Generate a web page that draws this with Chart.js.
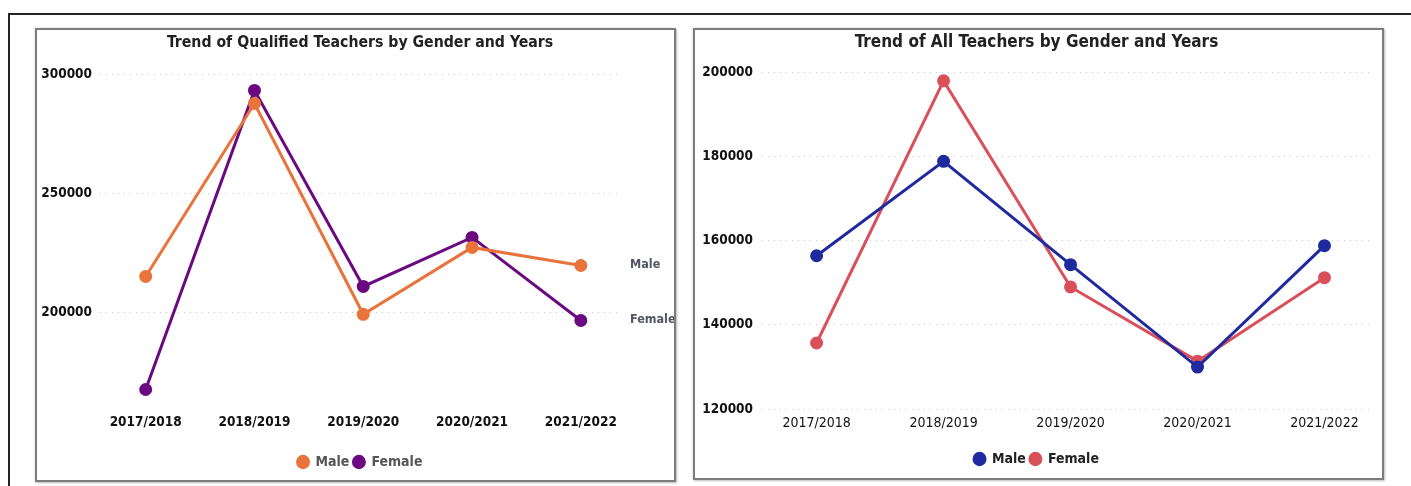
<!DOCTYPE html>
<html>
<head>
<meta charset="utf-8">
<script src="https://cdn.jsdelivr.net/npm/chart.js@4.4.1/dist/chart.umd.min.js"></script>
<style>
  html, body { margin: 0; padding: 0; background: #fff; }
  body { width: 1411px; height: 486px; position: relative; overflow: hidden; }
  .frame { position: absolute; left: 8px; top: 13px; right: -5px; bottom: -5px;
           border-top: 2px solid #222; border-left: 2px solid #222; }
  .panel { position: absolute; border: 2px solid #7c7c7c; background: #fff;
           box-shadow: 1px 1px 2px #bbb, -1px -1px 2px #eee; }
  #p1 { left: 35px; top: 28px; width: 637px; height: 450px; }
  #p2 { left: 693px; top: 28px; width: 687px; height: 448px; }
  canvas { display: block; }
</style>
</head>
<body>
<div class="frame"></div>
<div class="panel" id="p1"><canvas id="qualChart" width="637" height="450"></canvas></div>
<div class="panel" id="p2"><canvas id="allChart" width="687" height="448"></canvas></div>

<script>
    const years = ['2017/2018', '2018/2019', '2019/2020', '2020/2021', '2021/2022'];

    // qualified teachers
    const qualMale = [215100, 287800, 199200, 227300, 219700];
    const qualFemale = [167600, 293300, 210900, 231500, 196600];
    const qualTicks = [200000, 250000, 300000];

    // all teachers
    const allMale = [156400, 178800, 154300, 130000, 158800];
    const allFemale = [135700, 197900, 149000, 131400, 151200];
    const allTicks = [120000, 140000, 160000, 180000, 200000];

    const FONT = "'Liberation Sans Narrow', 'DejaVu Sans Condensed', sans-serif";
    Chart.defaults.font.family = FONT;
    Chart.defaults.color = '#111';

    const toPoints = arr => arr.map((v, i) => ({x: i, y: v}));

    // labels "Male" / "Female" next to the last point of the left chart
    const endLabels = {
        id: 'endLabels',
        afterDatasetsDraw(chart) {
            const ctx = chart.ctx;
            ctx.save();
            ctx.font = `bold 12.5px ${FONT}`;
            ctx.fillStyle = '#4f5763';
            ctx.textBaseline = 'middle';
            chart.data.datasets.forEach((ds, i) => {
                const meta = chart.getDatasetMeta(i);
                const last = meta.data[meta.data.length - 1];
                ctx.fillText(ds.label, chart.chartArea.right + 10, last.y - 1);
            });
            ctx.restore();
        }
    };

    function makeChart(id, maleData, femaleData, maleColor, femaleColor, opts) {
        const ctx = document.getElementById(id).getContext('2d');
        return new Chart(ctx, {
            type: 'line',
            data: {
                datasets: [
                    {label: 'Male', data: toPoints(maleData), borderColor: maleColor, backgroundColor: maleColor,
                     borderWidth: 3, pointRadius: 5, pointHoverRadius: 5},
                    {label: 'Female', data: toPoints(femaleData), borderColor: femaleColor, backgroundColor: femaleColor,
                     borderWidth: 3, pointRadius: 5, pointHoverRadius: 5}
                ]
            },
            options: {
                responsive: false,
                animation: false,
                layout: {padding: {top: opts.padTop, right: opts.padRight, bottom: opts.padBottom, left: 0}},
                plugins: {
                    title: {
                        display: true,
                        text: opts.title,
                        color: '#222',
                        fullSize: opts.fullSize,
                        font: {size: opts.titleSize, weight: 'bold', lineHeight: 1.2},
                        padding: {top: 0, bottom: opts.titleGap}
                    },
                    legend: {
                        position: 'bottom',
                        fullSize: opts.fullSize,
                        labels: {
                            usePointStyle: true,
                            pointStyle: 'circle',
                            boxHeight: 8,
                            pointStyleWidth: 11,
                            padding: 4,
                            color: opts.legendColor,
                            font: {size: 14, weight: 'bold'}
                        }
                    },
                    tooltip: {enabled: false}
                },
                scales: {
                    x: {
                        type: 'linear',
                        min: opts.xMin,
                        max: opts.xMax,
                        afterBuildTicks: scale => {
                            scale.ticks = years.map((y, i) => ({value: i}));
                        },
                        ticks: {
                            autoSkip: false,
                            maxRotation: 0,
                            padding: opts.xPad,
                            color: '#111',
                            font: opts.xFont,
                            callback: v => years[v]
                        },
                        // empty title, only used as space between tick labels and legend
                        title: {display: true, text: '', font: {size: 1, lineHeight: 1},
                                padding: {top: 0, bottom: opts.xGap}},
                        grid: {display: false, drawTicks: false},
                        border: {display: false}
                    },
                    y: {
                        min: opts.yMin,
                        max: opts.yMax,
                        afterBuildTicks: scale => {
                            scale.ticks = opts.yTicks.map(v => ({value: v}));
                        },
                        afterFit: scale => { scale.width = opts.yWidth; },
                        ticks: {
                            padding: opts.yPad,
                            color: '#111',
                            font: {size: 13.5, weight: 'bold'},
                            callback: v => String(v)
                        },
                        grid: {color: '#c8c8c8', lineWidth: 1, drawTicks: false},
                        border: {display: false, dash: [1, 5]}
                    }
                }
            },
            plugins: opts.plugins || []
        });
    }

    makeChart('qualChart', qualMale, qualFemale, '#E8743B', '#6B0A80', {
        title: 'Trend of Qualified Teachers by Gender and Years',
        titleSize: 15.7, fullSize: false,
        xMin: -0.42, xMax: 4.36,
        yMin: 162000, yMax: 300000, yTicks: qualTicks,
        yWidth: 63, yPad: 8, xPad: 12, xGap: 7,
        xFont: {size: 13.5, weight: 'bold'},
        legendColor: '#555',
        padTop: 4, padRight: 54, padBottom: 1, titleGap: 21.6,
        plugins: [endLabels]
    });

    makeChart('allChart', allMale, allFemale, '#1F2A9F', '#D94F5A', {
        title: 'Trend of All Teachers by Gender and Years',
        titleSize: 17, fullSize: true,
        xMin: -0.43, xMax: 4.39,
        yMin: 120000, yMax: 200000, yTicks: allTicks,
        yWidth: 67, yPad: 9, xPad: 6, xGap: 9,
        xFont: {size: 14},
        legendColor: '#222',
        padTop: 2, padRight: 4, padBottom: 2, titleGap: 19.6
    });
</script>
</body>
</html>
